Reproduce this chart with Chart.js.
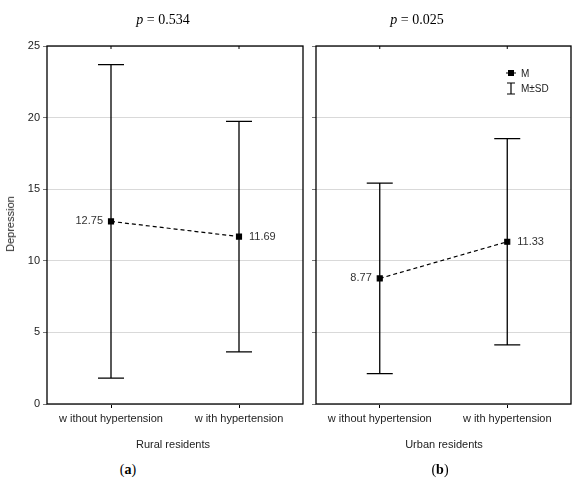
<!DOCTYPE html>
<html>
<head>
<meta charset="utf-8">
<script src="https://cdn.jsdelivr.net/npm/chart.js@4.4.1/dist/chart.umd.min.js"></script>
<style>
  body { margin: 0; background: #fff; }
  #wrap { position: relative; width: 588px; height: 487px; font-family: "Liberation Sans", Arial, sans-serif; }
  .box { position: absolute; }
  .txt { position: absolute; white-space: nowrap; transform: translateX(-50%); color: #222; }
  .serif { font-family: "Liberation Serif", "Times New Roman", serif; font-size: 14px; color: #000; }
  .sans { font-size: 11px; }
</style>
</head>
<body>
<div id="wrap">
  <div class="box" style="left:0;top:0;width:310px;height:440px"><canvas id="chartA"></canvas></div>
  <div class="box" style="left:310px;top:0;width:278px;height:440px"><canvas id="chartB"></canvas></div>

  <div class="txt serif" style="left:163px;top:12px"><i>p</i> = 0.534</div>
  <div class="txt serif" style="left:417px;top:12px"><i>p</i> = 0.025</div>
  <div class="txt sans" style="left:173px;top:438px">Rural residents</div>
  <div class="txt sans" style="left:444px;top:438px">Urban residents</div>
  <div class="txt serif" style="left:128px;top:462px">(<b>a</b>)</div>
  <div class="txt serif" style="left:440px;top:462px">(<b>b</b>)</div>
  <div class="txt sans" style="left:10px;top:218px;transform:translateX(-50%) rotate(-90deg)">Depression</div>
</div>

<script>
const groups = ["w ithout hypertension", "w ith hypertension"];
const ruralMean = [12.75, 11.69];
const ruralSD = [10.95, 8.05];
const urbanMean = [8.77, 11.33];
const urbanSD = [6.65, 7.2];
const yTicks = [0, 5, 10, 15, 20, 25];

// frame + small ticks on the top border
const framePlugin = {
  id: "frame",
  afterDraw(chart) {
    const { ctx, chartArea: a, scales } = chart;
    ctx.save();
    ctx.strokeStyle = "#000";
    ctx.lineWidth = 1.3;
    ctx.strokeRect(a.left, a.top, a.right - a.left, a.bottom - a.top);
    ctx.lineWidth = 1;
    groups.forEach((g, i) => {
      const x = scales.x.getPixelForValue(i);
      ctx.beginPath();
      ctx.moveTo(x, a.top);
      ctx.lineTo(x, a.top + 3);
      ctx.stroke();
    });
    ctx.restore();
  }
};

// mean ± SD whiskers and value labels
const errorPlugin = {
  id: "errorBars",
  beforeDatasetsDraw(chart, args, opts) {
    const { ctx, scales } = chart;
    ctx.save();
    ctx.strokeStyle = "#000";
    ctx.lineWidth = 1.3;
    opts.mean.forEach((m, i) => {
      const x = scales.x.getPixelForValue(i);
      const yTop = scales.y.getPixelForValue(m + opts.sd[i]);
      const yBot = scales.y.getPixelForValue(m - opts.sd[i]);
      ctx.beginPath();
      ctx.moveTo(x, yTop); ctx.lineTo(x, yBot);
      ctx.moveTo(x - 13, yTop); ctx.lineTo(x + 13, yTop);
      ctx.moveTo(x - 13, yBot); ctx.lineTo(x + 13, yBot);
      ctx.stroke();
    });
    ctx.restore();
  },
  afterDatasetsDraw(chart, args, opts) {
    const { ctx, scales } = chart;
    ctx.save();
    ctx.fillStyle = "#333";
    ctx.font = "11px 'Liberation Sans', Arial, sans-serif";
    ctx.textBaseline = "middle";
    opts.mean.forEach((m, i) => {
      const x = scales.x.getPixelForValue(i);
      const y = scales.y.getPixelForValue(m);
      const dy = opts.labelDy ? opts.labelDy[i] : 0;
      if (i === 0) { ctx.textAlign = "right"; ctx.fillText(m.toFixed(2), x - 8, y + dy); }
      else { ctx.textAlign = "left"; ctx.fillText(m.toFixed(2), x + 10, y + dy); }
    });
    ctx.restore();
  }
};

const legendPlugin = {
  id: "miniLegend",
  afterDraw(chart) {
    const { ctx, chartArea: a } = chart;
    const x = a.right - 60, y = a.top + 27;
    ctx.save();
    ctx.fillStyle = "#000";
    ctx.strokeStyle = "#000";
    ctx.lineWidth = 1.2;
    ctx.fillRect(x - 3, y - 3, 6, 6);
    ctx.beginPath();
    ctx.moveTo(x - 5, y); ctx.lineTo(x + 5, y);
    ctx.moveTo(x, y + 10); ctx.lineTo(x, y + 21);
    ctx.moveTo(x - 4, y + 10); ctx.lineTo(x + 4, y + 10);
    ctx.moveTo(x - 4, y + 21); ctx.lineTo(x + 4, y + 21);
    ctx.stroke();
    ctx.font = "10px 'Liberation Sans', Arial, sans-serif";
    ctx.textBaseline = "middle";
    ctx.fillStyle = "#222";
    ctx.fillText("M", x + 10, y + 1);
    ctx.fillText("M\u00B1SD", x + 10, y + 16);
    ctx.restore();
  }
};

function makeChart(id, mean, sd, showY, padding, extra) {
  return new Chart(document.getElementById(id), {
    type: "line",
    data: {
      labels: groups,
      datasets: [{
        data: mean,
        borderColor: "#000",
        borderWidth: 1.2,
        borderDash: [4, 3],
        pointStyle: "rect",
        pointRadius: 3.5,
        pointBackgroundColor: "#000",
        pointBorderColor: "#000",
        tension: 0
      }]
    },
    options: {
      responsive: true,
      maintainAspectRatio: false,
      animation: false,
      layout: { padding: padding },
      plugins: {
        legend: { display: false },
        tooltip: { enabled: false },
        errorBars: { mean: mean, sd: sd }
      },
      scales: {
        x: {
          type: "category",
          offset: true,
          border: { display: false },
          grid: { drawOnChartArea: false, tickLength: 4, color: "#000", offset: false },
          ticks: { color: "#222", font: { size: 11, family: "'Liberation Sans', Arial, sans-serif" }, padding: 4 },
          afterFit(s) { s.height = 30; }
        },
        y: {
          min: 0, max: 25,
          afterBuildTicks(s) { s.ticks = yTicks.map(v => ({ value: v })); },
          border: { display: false },
          grid: { color: "#d9d9d9", lineWidth: 1, tickLength: 4, tickColor: "#777" },
          ticks: { display: showY, color: "#222", font: { size: 11, family: "'Liberation Sans', Arial, sans-serif" }, padding: 3 },
          afterFit(s) { s.width = showY ? 47 : 6; }
        }
      }
    },
    plugins: [errorPlugin, framePlugin].concat(extra)
  });
}

makeChart("chartA", ruralMean, ruralSD, true, { top: 46, right: 7, bottom: 6, left: 0 }, []);
makeChart("chartB", urbanMean, urbanSD, false, { top: 46, right: 17, bottom: 6, left: 0 }, [legendPlugin]);
</script>
</body>
</html>
